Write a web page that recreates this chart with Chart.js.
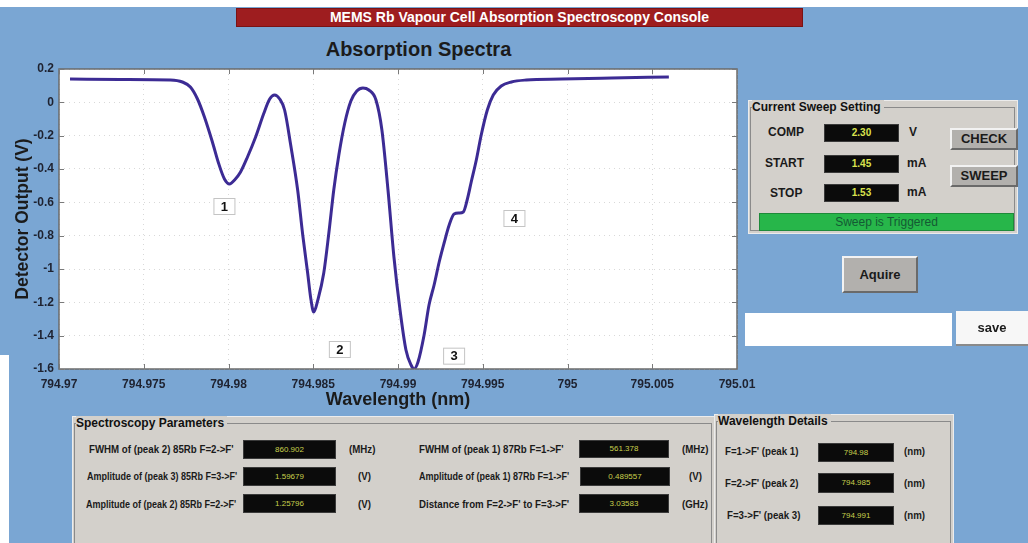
<!DOCTYPE html>
<html>
<head>
<meta charset="utf-8">
<script src="https://cdn.jsdelivr.net/npm/chart.js@4.4.1/dist/chart.umd.min.js"></script>
<style>
  html,body{margin:0;padding:0;background:#ffffff;width:1028px;height:543px;overflow:hidden;font-family:"Liberation Sans",Arial,sans-serif;}
  .abs{position:absolute;}
  #bg{left:0;top:7px;width:1028px;height:536px;background:#7aa6d3;}
  #wstrip{left:0;top:355px;width:9px;height:188px;background:#ffffff;}
  #hdr{left:236px;top:8px;width:567px;height:19px;background:#9e1d1f;border:1px solid #7a1214;box-sizing:border-box;color:#fff;font-weight:bold;font-size:14px;line-height:17px;text-align:center;}
  #ttl{left:300px;top:37px;width:237px;text-align:center;font-weight:bold;font-size:20px;color:#1b1b1b;line-height:24px;}
  #cv{position:absolute;left:0;top:0;}
  .grp{position:absolute;background:#d3d0cb;border:1px solid #ececec;box-sizing:border-box;}
  .ln{position:absolute;left:1px;top:6px;right:2px;bottom:2px;border:1px solid #8a8a8a;}
  .gt{position:absolute;top:-1px;left:3px;background:#d3d0cb;font-weight:bold;font-size:12px;color:#111;padding-right:3px;line-height:14px;}
  .lbl{position:absolute;font-weight:bold;font-size:12px;color:#1a1a1a;white-space:nowrap;}
  .disp{position:absolute;background:#0b0b0b;border:1px solid #3a3a3a;box-sizing:border-box;color:#d9e24e;text-align:center;font-size:10px;font-weight:bold;}
  .btn{position:absolute;background:#b2b0ad;border-top:2px solid #f2f2f2;border-left:2px solid #f2f2f2;border-right:2px solid #6a6a6a;border-bottom:2px solid #6a6a6a;box-sizing:border-box;font-weight:bold;font-size:13px;color:#1a1a1a;text-align:center;}
  .sm{position:absolute;font-weight:bold;font-size:10px;color:#1a1a1a;white-space:nowrap;line-height:12px;transform:scaleX(0.97);transform-origin:0 50%;}
  .sm.nar{transform:scaleX(0.9);}
  .sd{position:absolute;background:#0b0b0b;border:1px solid #3a3a3a;box-sizing:border-box;color:#c9d04c;text-align:center;font-size:8px;}
</style>
</head>
<body>
<div id="bg" class="abs"></div>
<div id="wstrip" class="abs"></div>
<div id="hdr" class="abs">MEMS Rb Vapour Cell Absorption Spectroscopy Console</div>
<div id="ttl" class="abs">Absorption Spectra</div>
<canvas id="cv" width="836" height="415"></canvas>

<!-- Current Sweep Setting panel -->
<div class="grp" style="left:748px;top:100px;width:270px;height:134px;">
  <div class="ln"></div>
  <div class="gt">Current Sweep Setting</div>
  <div class="lbl" style="left:19px;top:24px;">COMP</div>
  <div class="lbl" style="left:16px;top:55px;">START</div>
  <div class="lbl" style="left:21px;top:85px;">STOP</div>
  <div class="disp" style="left:75px;top:23px;width:75px;height:18px;line-height:16px;">2.30</div>
  <div class="disp" style="left:75px;top:54px;width:75px;height:18px;line-height:16px;">1.45</div>
  <div class="disp" style="left:75px;top:83px;width:75px;height:18px;line-height:16px;">1.53</div>
  <div class="lbl" style="left:160px;top:24px;">V</div>
  <div class="lbl" style="left:158px;top:55px;">mA</div>
  <div class="lbl" style="left:158px;top:84px;">mA</div>
  <div class="btn" style="left:201px;top:27px;width:68px;height:22px;line-height:18px;">CHECK</div>
  <div class="btn" style="left:201px;top:64px;width:68px;height:22px;line-height:18px;">SWEEP</div>
  <div style="position:absolute;left:10px;top:112px;width:255px;height:18px;background:#27b64a;border:1px solid #1e8a3a;box-sizing:border-box;color:#145a34;font-size:12px;text-align:center;line-height:16px;">Sweep is Triggered</div>
</div>
<div class="btn" style="left:842px;top:256px;width:76px;height:37px;line-height:33px;">Aquire</div>
<div class="abs" style="left:745px;top:313px;width:207px;height:33px;background:#ffffff;"></div>
<div class="abs" style="left:956px;top:311px;width:72px;height:35px;background:#f7f7f7;border-bottom:2px solid #8a8a8a;box-sizing:border-box;font-weight:bold;font-size:13px;text-align:center;line-height:33px;color:#1a1a1a;">save</div>

<!-- Spectroscopy Parameters panel -->
<div class="grp" style="left:72px;top:416px;width:643px;height:140px;">
  <div class="ln"></div>
  <div class="gt">Spectroscopy Parameters</div>
  <div class="sm" style="left:16px;top:27px;">FWHM of (peak 2) 85Rb F=2-&gt;F'</div>
  <div class="sd" style="left:170px;top:23px;width:93px;height:19px;line-height:17px;">860.902</div>
  <div class="sm" style="left:276px;top:27px;">(MHz)</div>
  <div class="sm nar" style="left:14px;top:54px;">Amplitude of (peak 3) 85Rb F=3-&gt;F'</div>
  <div class="sd" style="left:170px;top:50px;width:93px;height:19px;line-height:17px;">1.59679</div>
  <div class="sm" style="left:285px;top:54px;">(V)</div>
  <div class="sm nar" style="left:13px;top:82px;">Amplitude of (peak 2) 85Rb F=2-&gt;F'</div>
  <div class="sd" style="left:170px;top:77px;width:93px;height:19px;line-height:17px;">1.25796</div>
  <div class="sm" style="left:285px;top:82px;">(V)</div>
  <div class="sm" style="left:346px;top:27px;">FWHM of (peak 1) 87Rb F=1-&gt;F'</div>
  <div class="sd" style="left:506px;top:23px;width:90px;height:18px;line-height:16px;">561.378</div>
  <div class="sm" style="left:609px;top:27px;">(MHz)</div>
  <div class="sm nar" style="left:346px;top:54px;">Amplitude of (peak 1) 87Rb F=1-&gt;F'</div>
  <div class="sd" style="left:507px;top:50px;width:90px;height:19px;line-height:17px;">0.489557</div>
  <div class="sm" style="left:616px;top:54px;">(V)</div>
  <div class="sm" style="left:346px;top:82px;">Distance from F=2-&gt;F' to F=3-&gt;F'</div>
  <div class="sd" style="left:506px;top:77px;width:90px;height:19px;line-height:17px;">3.03583</div>
  <div class="sm" style="left:609px;top:82px;">(GHz)</div>
</div>

<!-- Wavelength Details panel -->
<div class="grp" style="left:714px;top:414px;width:240px;height:142px;">
  <div class="ln"></div>
  <div class="gt">Wavelength Details</div>
  <div class="sm" style="left:10px;top:31px;">F=1-&gt;F' (peak 1)</div>
  <div class="sd" style="left:103px;top:28px;width:76px;height:19px;line-height:17px;">794.98</div>
  <div class="sm" style="left:189px;top:31px;">(nm)</div>
  <div class="sm" style="left:10px;top:63px;">F=2-&gt;F' (peak 2)</div>
  <div class="sd" style="left:103px;top:58px;width:76px;height:20px;line-height:18px;">794.985</div>
  <div class="sm" style="left:189px;top:63px;">(nm)</div>
  <div class="sm" style="left:12px;top:95px;">F=3-&gt;F' (peak 3)</div>
  <div class="sd" style="left:103px;top:91px;width:76px;height:19px;line-height:17px;">794.991</div>
  <div class="sm" style="left:189px;top:95px;">(nm)</div>
</div>

<script>
// ---- data ----
const waveX = [794.97065,794.97361,794.97657,794.97728,794.97775,794.97817,794.97858,794.97905,794.97941,794.97976,
  794.98006,794.98036,794.98071,794.98112,794.98160,794.98207,794.98243,794.98272,794.98302,794.98331,
  794.98367,794.98408,794.98438,794.98467,794.98485,794.98503,794.98527,794.98562,794.98592,794.98621,
  794.98651,794.98686,794.98722,794.98757,794.98793,794.98828,794.98870,794.98905,794.98941,794.98976,
  794.99012,794.99047,794.99077,794.99095,794.99118,794.99154,794.99183,794.99213,794.99243,794.99272,
  794.99302,794.99331,794.99361,794.99385,794.99408,794.99432,794.99462,794.99491,794.99527,794.99562,
  794.99609,794.99669,794.99757,794.99964,795.00260,795.00598];
const detY = [0.140,0.137,0.134,0.122,0.092,0.020,-0.088,-0.238,-0.364,-0.460,
  -0.490,-0.466,-0.418,-0.328,-0.208,-0.070,0.020,0.044,0.020,-0.046,
  -0.256,-0.526,-0.796,-1.024,-1.174,-1.258,-1.186,-1.024,-0.784,-0.526,
  -0.316,-0.124,0.008,0.068,0.086,0.074,0.014,-0.166,-0.526,-0.928,
  -1.246,-1.486,-1.576,-1.600,-1.558,-1.396,-1.216,-1.096,-0.958,-0.844,
  -0.736,-0.670,-0.664,-0.658,-0.586,-0.478,-0.346,-0.196,-0.046,0.044,
  0.098,0.122,0.134,0.140,0.146,0.152];
const xTicks = [794.97,794.975,794.98,794.985,794.99,794.995,795,795.005,795.01];
const xTickLabels = ['794.97','794.975','794.98','794.985','794.99','794.995','795','795.005','795.01'];
const yTicks = [0.2,0,-0.2,-0.4,-0.6,-0.8,-1,-1.2,-1.4,-1.6];
const yTickLabels = ['0.2','0','-0.2','-0.4','-0.6','-0.8','-1','-1.2','-1.4','-1.6'];
const peakLabels = ['1','2','3','4'];
const peakLabelX = [794.97976,794.98657,794.99331,794.99687];
const peakLabelY = [-0.622,-1.48,-1.52,-0.694];

const tickFont = {family:'Liberation Sans', size:12, weight:'bold'};

const framePlugin = {
  id:'frame',
  beforeDraw(chart){
    const {ctx, chartArea:a} = chart;
    ctx.save();
    ctx.fillStyle = '#ffffff';
    ctx.fillRect(a.left, a.top, a.right-a.left, a.bottom-a.top);
    ctx.restore();
  },
  afterDatasetsDraw(chart){
    const {ctx, chartArea:a, scales:{x, y}} = chart;
    ctx.save();
    ctx.font = 'bold 13px "Liberation Sans", Arial';
    ctx.textAlign = 'center';
    ctx.textBaseline = 'middle';
    peakLabels.forEach((t,i)=>{
      const px = x.getPixelForValue(peakLabelX[i]);
      const py = y.getPixelForValue(peakLabelY[i]);
      ctx.fillStyle = '#ffffff';
      ctx.fillRect(px-11, py-8, 22, 17);
      ctx.strokeStyle = '#c4c4c4';
      ctx.lineWidth = 1;
      ctx.strokeRect(px-10.5, py-7.5, 21, 16);
      ctx.fillStyle = '#111111';
      ctx.fillText(t, px, py+1);
    });
    ctx.strokeStyle = '#6b6b6b';
    ctx.lineWidth = 1.5;
    ctx.strokeRect(a.left, a.top, a.right-a.left, a.bottom-a.top);
    ctx.strokeStyle = '#7a7a7a';
    ctx.lineWidth = 1;
    ctx.beginPath();
    xTicks.forEach(v=>{
      const px = Math.round(x.getPixelForValue(v))+0.5;
      ctx.moveTo(px, a.bottom); ctx.lineTo(px, a.bottom-5);
      ctx.moveTo(px, a.top); ctx.lineTo(px, a.top+5);
    });
    yTicks.forEach(v=>{
      const py = Math.round(y.getPixelForValue(v))+0.5;
      ctx.moveTo(a.left, py); ctx.lineTo(a.left+5, py);
      ctx.moveTo(a.right, py); ctx.lineTo(a.right-5, py);
    });
    ctx.stroke();
    ctx.restore();
  }
};

new Chart(document.getElementById('cv'), {
  type:'line',
  data:{
    datasets:[{
      data: waveX.map((v,i)=>({x:v, y:detY[i]})),
      borderColor:'#3c2b94',
      borderWidth:3,
      pointRadius:0,
      fill:false,
      cubicInterpolationMode:'monotone'
    }]
  },
  options:{
    responsive:false,
    animation:false,
    devicePixelRatio:1,
    layout:{padding:{left:0, right:99, top:69, bottom:0}},
    plugins:{legend:{display:false}, tooltip:{enabled:false}, title:{display:false}},
    scales:{
      x:{
        type:'linear', min:794.97, max:795.01,
        afterBuildTicks(s){ s.ticks = xTicks.map(v=>({value:v})); },
        afterFit(s){ s.height = 46; },
        ticks:{ callback:(v,i)=>xTickLabels[i], padding:8, font:tickFont, color:'#1e2230', maxRotation:0, autoSkip:false },
        grid:{ color:'#d9d9d9', drawTicks:false, lineWidth:1 },
        border:{ display:false, dash:[1,4] },
        title:{ display:true, text:'Wavelength (nm)', color:'#1b1b1b', font:{family:'Liberation Sans', size:18, weight:'bold'}, padding:{top:0,bottom:4} }
      },
      y:{
        type:'linear', min:-1.6, max:0.2,
        afterBuildTicks(s){ s.ticks = yTicks.map(v=>({value:v})); },
        afterFit(s){ s.width = 59; },
        ticks:{ callback:(v,i)=>yTickLabels[i], padding:5, font:tickFont, color:'#1e2230', autoSkip:false },
        grid:{ color:'#d9d9d9', drawTicks:false, lineWidth:1 },
        border:{ display:false, dash:[1,4] },
        title:{ display:true, text:'Detector Output (V)', color:'#1b1b1b', font:{family:'Liberation Sans', size:17.5, weight:'bold'}, padding:{top:13,bottom:0} }
      }
    }
  },
  plugins:[framePlugin]
});
</script>
</body>
</html>
